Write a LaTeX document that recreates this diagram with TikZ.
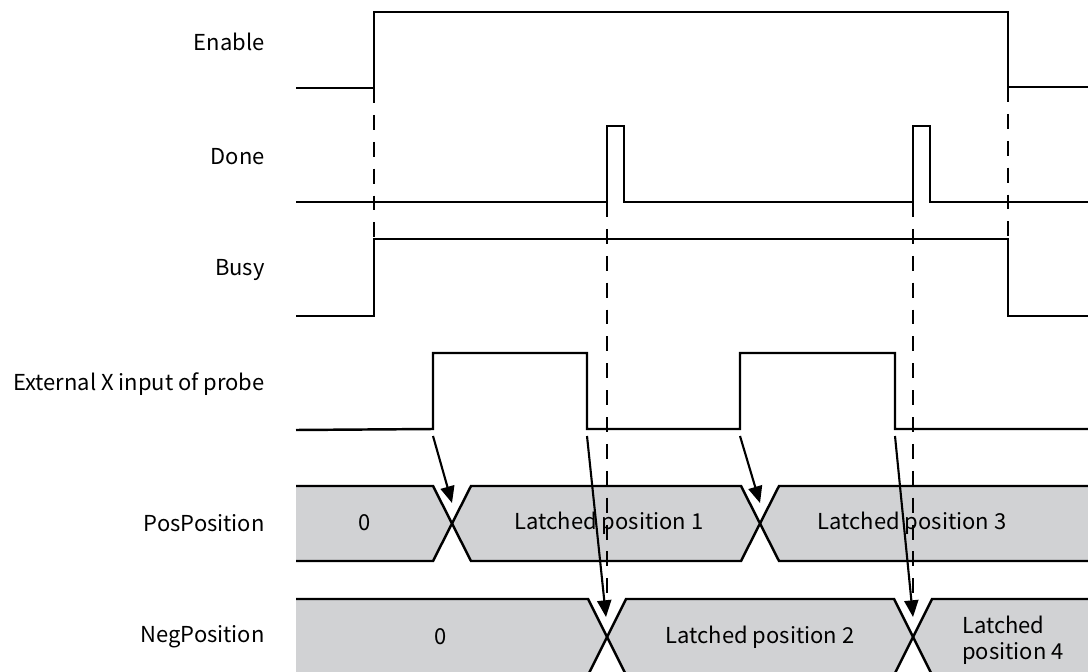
\documentclass[tikz,border=0pt]{standalone}
\usepackage{fontspec}
\setmainfont{Noto Sans CJK SC}
\usetikzlibrary{arrows.meta}
\definecolor{busgray}{HTML}{D1D2D4}
\tikzset{
  sig/.style={line width=1.4pt, draw=black, line join=miter},
  busfill/.style={fill=busgray, draw=none},
  guide/.style={line width=1.1pt, dash pattern=on 8.5pt off 6.8pt},
  arr/.style={-{Triangle[length=9.5pt, width=8pt]}, line width=1.2pt},
  lbl/.style={anchor=east, inner sep=0pt, font=\fontsize{12.5}{15}\selectfont},
  val/.style={inner sep=0pt, font=\fontsize{12.5}{15}\selectfont},
}
\begin{document}
\begin{tikzpicture}[x=0.02cm, y=-0.02cm]
  \useasboundingbox (0,0) rectangle (1088,672);
  \clip (0,0) rectangle (1088,672);

  \node[lbl] (lEnable) at (265,42)  {Enable};
  \node[lbl] (lDone)   at (265,157) {Done};
  \node[lbl] (lBusy)   at (265,270) {Busy};
  \node[lbl] (lExt)    at (265,384) {External X input of probe};
  \node[lbl] (lPos)    at (265,523) {PosPosition};
  \node[lbl] (lNeg)    at (265,637) {NegPosition};

  % PosPosition bus
  \fill[busfill] (296,486) -- (433,486) -- (452,523.5) -- (433,561) -- (296,561) -- cycle;
  \fill[busfill] (471,486) -- (741,486) -- (760,523.5) -- (741,561) -- (471,561) -- (452,523.5) -- cycle;
  \fill[busfill] (779,486) -- (1088,486) -- (1088,561) -- (779,561) -- (760,523.5) -- cycle;
  \node[val] (p0) at (365,523) {0};
  \node[val] (p1) at (609,523) {Latched position 1};
  \node[val] (p3) at (912,523) {Latched position 3};
  \draw[sig] (296,486) -- (433,486) -- (471,561) -- (741,561) -- (779,486) -- (1088,486);
  \draw[sig] (296,561) -- (433,561) -- (471,486) -- (741,486) -- (779,561) -- (1088,561);

  % NegPosition bus
  \fill[busfill] (296,599) -- (588,599) -- (607,637) -- (588,675) -- (296,675) -- cycle;
  \fill[busfill] (626,599) -- (894,599) -- (913,637) -- (894,675) -- (626,675) -- (607,637) -- cycle;
  \fill[busfill] (932,599) -- (1088,599) -- (1088,675) -- (932,675) -- (913,637) -- cycle;
  \node[val] (n0) at (441,637) {0};
  \node[val] (n2) at (760,637) {Latched position 2};
  \node[val, anchor=west, align=left] (n4) at (962,640) {Latched\\position 4};
  \draw[sig] (296,599) -- (588,599) -- (626,675);
  \draw[sig] (588,675) -- (626,599) -- (894,599) -- (932,675);
  \draw[sig] (894,675) -- (932,599) -- (1088,599);

  \draw[guide] (374,88) -- (374,239);
  \draw[guide] (1008,87) -- (1008,239);
  \draw[guide] (607,202) -- (607,599);
  \draw[guide] (913,202) -- (913,599);

  \draw[sig] (296,88) -- (374,88) -- (374,12) -- (1008,12) -- (1008,87) -- (1088,87);
  \draw[sig] (296,202) -- (607,202) -- (607,126) -- (624,126) -- (624,202)
    -- (913,202) -- (913,126) -- (930,126) -- (930,202) -- (1088,202);
  \draw[sig] (296,316) -- (374,316) -- (374,239) -- (1008,239) -- (1008,316) -- (1088,316);
  \draw[sig] (296,430) -- (433,429) -- (433,353) -- (587,353) -- (587,429) -- (740,429)
    -- (740,353) -- (895,353) -- (895,429) -- (1088,429);

  \coordinate (x1) at (433,436);
  \coordinate (x2) at (587,436);
  \coordinate (x3) at (740,436);
  \coordinate (x4) at (895,436);
  \coordinate (c1) at (452,503);
  \coordinate (c2) at (606,617);
  \coordinate (c3) at (760,503);
  \coordinate (c4) at (913,617);
  \draw[arr] (x1) -- (c1);
  \draw[arr] (x2) -- (c2);
  \draw[arr] (x3) -- (c3);
  \draw[arr] (x4) -- (c4);
\end{tikzpicture}
\end{document}
